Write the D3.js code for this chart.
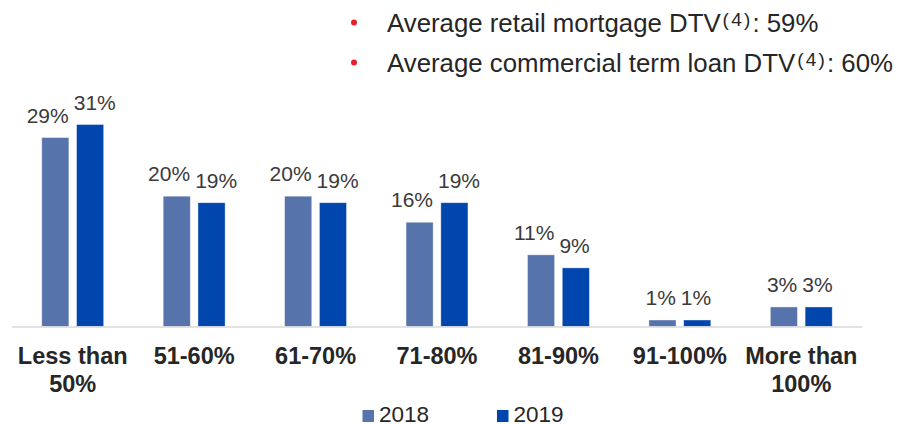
<!DOCTYPE html>
<html>
<head>
<meta charset="utf-8">
<script src="https://cdn.jsdelivr.net/npm/d3@7"></script>
<style>
  html, body { margin: 0; padding: 0; background: #fff; }
  svg { display: block; font-family: Arial, "Liberation Sans", sans-serif; }
</style>
</head>
<body>
<svg id="chart" width="899" height="424"></svg>
<script>
// DTV bands (category axis, each label may wrap onto two lines)
const categories = [
  ["Less than", "50%"],
  ["51-60%"],
  ["61-70%"],
  ["71-80%"],
  ["81-90%"],
  ["91-100%"],
  ["More than", "100%"]
];
const seriesNames = ["2018", "2019"];
const values2018 = [29, 20, 20, 16, 11, 1, 3];
const values2019 = [31, 19, 19, 19, 9, 1, 3];
const notes = [
  { text: "Average retail mortgage DTV", sup: "(4)", tail: ": 59%" },
  { text: "Average commercial term loan DTV", sup: "(4)", tail: ": 60%" }
];

const colors = { "2018": "#5773AB", "2019": "#0046AD" };
const seriesValues = { "2018": values2018, "2019": values2019 };

const svg = d3.select("#chart");

const x = d3.scaleBand()
  .domain(d3.range(categories.length))
  .range([12, 862])
  .paddingInner(0.49)
  .paddingOuter(0.245);

const xs = d3.scaleBand()
  .domain(seriesNames)
  .range([0, x.bandwidth()])
  .paddingInner(0.22);

const y = d3.scaleLinear()
  .domain([0, 31])
  .range([326.5, 124.5]);

// bullet notes at the top right
const noteG = svg.append("g");
notes.forEach((n, i) => {
  const by = 31.5 + i * 40;
  noteG.append("circle")
    .attr("cx", 354).attr("cy", by - 9).attr("r", 3)
    .attr("fill", "#E3202C");
  const t = noteG.append("text")
    .attr("x", 387).attr("y", by)
    .attr("font-size", 25.8).attr("fill", "#262626");
  t.append("tspan").text(n.text);
  t.append("tspan")
    .attr("font-size", 19).attr("letter-spacing", 2.2)
    .attr("dx", 2).attr("dy", -6).text(n.sup);
  t.append("tspan").attr("dy", 6).text(n.tail);
});

// bars
const groups = svg.append("g")
  .selectAll("g")
  .data(categories.map((c, i) => i))
  .join("g")
  .attr("transform", i => `translate(${x(i)},0)`);

groups.selectAll("rect")
  .data(i => seriesNames.map(s => ({ s, v: seriesValues[s][i] })))
  .join("rect")
  .attr("x", d => xs(d.s))
  .attr("width", xs.bandwidth())
  .attr("y", d => y(d.v))
  .attr("height", d => y(0) - y(d.v))
  .attr("fill", d => colors[d.s])
  .attr("stroke", "#ffffff")
  .attr("stroke-opacity", 0.5)
  .attr("stroke-width", 0.8);

// value labels: the pair sits either side of the group centre
const labelAnchor = { "2018": "end", "2019": "start" };
const labelOffset = { "2018": -4, "2019": 1 };
groups.selectAll("text.val")
  .data(i => seriesNames.map(s => ({ s, v: seriesValues[s][i] })))
  .join("text")
  .attr("class", "val")
  .attr("x", d => x.bandwidth() / 2 + labelOffset[d.s])
  .attr("y", d => y(d.v) - 15)
  .attr("text-anchor", d => labelAnchor[d.s])
  .attr("font-size", 21)
  .attr("fill", "#3a3a3a")
  .text(d => d.v + "%");

// baseline
svg.append("line")
  .attr("x1", 12).attr("x2", 862)
  .attr("y1", 327).attr("y2", 327)
  .attr("stroke", "#d9d9d9").attr("stroke-width", 1.5);

// category labels
const catG = svg.append("g");
categories.forEach((lines, i) => {
  const t = catG.append("text")
    .attr("x", x(i) + x.bandwidth() / 2)
    .attr("y", 364)
    .attr("text-anchor", "middle")
    .attr("font-size", 23.5)
    .attr("font-weight", "bold")
    .attr("fill", "#262626");
  lines.forEach((ln, j) => {
    t.append("tspan")
      .attr("x", x(i) + x.bandwidth() / 2)
      .attr("dy", j === 0 ? 0 : 27.7)
      .text(ln);
  });
});

// legend
const legendX = { "2018": 362.5, "2019": 497 };
const leg = svg.append("g");
seriesNames.forEach(s => {
  leg.append("rect")
    .attr("x", legendX[s]).attr("y", 410)
    .attr("width", 11.5).attr("height", 12)
    .attr("fill", colors[s]);
  leg.append("text")
    .attr("x", legendX[s] + 16.5).attr("y", 422)
    .attr("font-size", 22.5)
    .attr("fill", "#262626")
    .text(s);
});
</script>
</body>
</html>
